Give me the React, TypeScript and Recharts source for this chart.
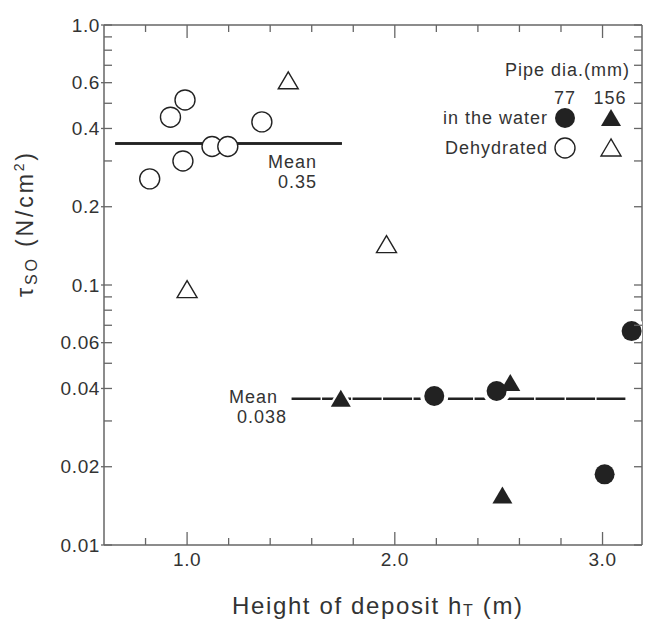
import React from 'react';
import { ScatterChart, Scatter, XAxis, YAxis } from 'recharts';

// ---- data ----
const dehydrated77 = [
  { x: 0.82, y: 0.256 },
  { x: 0.92, y: 0.442 },
  { x: 0.99, y: 0.515 },
  { x: 0.98, y: 0.3 },
  { x: 1.12, y: 0.341 },
  { x: 1.196, y: 0.341 },
  { x: 1.36, y: 0.424 },
];
const dehydrated156 = [
  { x: 1.487, y: 0.61 },
  { x: 1.0, y: 0.096 },
  { x: 1.96, y: 0.143 },
];
const water77 = [
  { x: 2.19, y: 0.0374 },
  { x: 2.49, y: 0.0391 },
  { x: 3.14, y: 0.0665 },
  { x: 3.01, y: 0.0187 },
];
const water156 = [
  { x: 1.74, y: 0.0365 },
  { x: 2.556, y: 0.042 },
  { x: 2.518, y: 0.0155 },
];
const meanDehydrated = [
  { x: 0.654, y: 0.35 },
  { x: 1.745, y: 0.35 },
];
const meanWater = [
  { x: 1.503, y: 0.0365 },
  { x: 3.11, y: 0.0365 },
];

const xDomain = [0.6, 3.19];
const xTicks = [0.8, 1.0, 1.2, 1.4, 1.6, 1.8, 2.0, 2.2, 2.4, 2.6, 2.8, 3.0];
const xMajor = [1.0, 2.0, 3.0];
const xLabels = ['1.0', '2.0', '3.0'];

const yDomain = [0.01, 1];
const yTicks = [
  0.01, 0.02, 0.03, 0.04, 0.05, 0.06, 0.07, 0.08, 0.09,
  0.1, 0.2, 0.3, 0.4, 0.5, 0.6, 0.7, 0.8, 0.9, 1.0,
];
const yLabelValues = [1.0, 0.6, 0.4, 0.2, 0.1, 0.06, 0.04, 0.02, 0.01];
const yLabels = ['1.0', '0.6', '0.4', '0.2', '0.1', '0.06', '0.04', '0.02', '0.01'];

// ---- styles ----
const INK = '#222';
const TEXT = '#333';
const AXIS = '#666';
const FONT = '"Liberation Sans", Arial, sans-serif';
const FS = 18;
const LS = 1;
const TFS = 19;
const TLS = 0.6;

const near = (a: number, b: number) => Math.abs(a - b) < 1e-6;

const labelFor = (v: number, vals: number[], labels: string[]) => {
  const i = vals.findIndex((t) => near(t, v));
  return i >= 0 ? labels[i] : null;
};

const XTickBottom = (props: any) => {
  const { x, y, payload } = props;
  const lab = labelFor(payload.value, xMajor, xLabels);
  return (
    <g>
      <line x1={x} x2={x} y1={y} y2={y - (lab ? 13 : 7)} stroke={AXIS} strokeWidth={1.3} />
      {lab && (
        <text x={x} y={y + 21} textAnchor="middle" fontSize={TFS} letterSpacing={TLS} fontFamily={FONT} fill={TEXT}>
          {lab}
        </text>
      )}
    </g>
  );
};

const XTickTop = (props: any) => {
  const { x, y, payload } = props;
  const major = xMajor.some((t) => near(t, payload.value));
  return <line x1={x} x2={x} y1={y} y2={y + (major ? 13 : 7)} stroke={AXIS} strokeWidth={1.3} />;
};

const YTickLeft = (props: any) => {
  const { x, y, payload } = props;
  const lab = labelFor(payload.value, yLabelValues, yLabels);
  return (
    <g>
      <line x1={x - (lab ? 3 : 0)} x2={x + 8} y1={y} y2={y} stroke={AXIS} strokeWidth={1.3} />
      {lab && (
        <text x={x - 4} y={y + 6.5} textAnchor="end" fontSize={TFS} letterSpacing={TLS} fontFamily={FONT} fill={TEXT}>
          {lab}
        </text>
      )}
    </g>
  );
};

const YTickRight = (props: any) => {
  const { x, y } = props;
  return <line x1={x} x2={x - 8} y1={y} y2={y} stroke={AXIS} strokeWidth={1.3} />;
};

const tri = (cx: number, cy: number) => `${cx},${cy - 9} ${cx - 10},${cy + 8} ${cx + 10},${cy + 8}`;
const triHalo = (cx: number, cy: number) => `${cx},${cy - 14} ${cx - 14},${cy + 11} ${cx + 14},${cy + 11}`;

const OpenCircle = (p: any) => <circle cx={p.cx} cy={p.cy} r={10} fill="#fff" stroke={INK} strokeWidth={1.4} />;
const OpenTriangle = (p: any) => <polygon points={tri(p.cx, p.cy)} fill="#fff" stroke={INK} strokeWidth={1.4} />;
const CircleHalo = (p: any) => <circle cx={p.cx} cy={p.cy} r={14} fill="#fff" />;
const TriangleHalo = (p: any) => <polygon points={triHalo(p.cx, p.cy)} fill="#fff" />;
const FilledCircle = (p: any) => <circle cx={p.cx} cy={p.cy} r={10} fill={INK} />;
const FilledTriangle = (p: any) => <polygon points={tri(p.cx, p.cy)} fill={INK} />;
const NoShape = () => <g />;

const txt = (x: number, y: number, s: React.ReactNode, anchor: string = 'start', fs: number = FS) => (
  <text x={x} y={y} textAnchor={anchor as any} fontSize={fs} letterSpacing={LS} fontFamily={FONT} fill={TEXT}>
    {s}
  </text>
);

export default function App() {
  return (
    <div style={{ position: 'absolute', left: 0, top: 0, width: 645, height: 623, background: '#fff' }}>
      <ScatterChart width={645} height={623} margin={{ top: 24, right: 2, left: 0, bottom: 0 }}>
        <XAxis
          xAxisId="b"
          dataKey="x"
          type="number"
          domain={xDomain}
          allowDataOverflow
          ticks={xTicks}
          interval={0}
          orientation="bottom"
          height={78}
          tickSize={0}
          tickMargin={0}
          tickLine={false}
          tick={<XTickBottom />}
          axisLine={{ stroke: AXIS, strokeWidth: 1.5 }}
        />
        <XAxis
          xAxisId="t"
          dataKey="x"
          type="number"
          domain={xDomain}
          allowDataOverflow
          ticks={xTicks}
          interval={0}
          orientation="top"
          height={1}
          tickSize={0}
          tickMargin={0}
          tickLine={false}
          tick={<XTickTop />}
          axisLine={{ stroke: AXIS, strokeWidth: 1.5 }}
        />
        <YAxis
          yAxisId="l"
          dataKey="y"
          type="number"
          scale="log"
          domain={yDomain}
          allowDataOverflow
          ticks={yTicks}
          interval={0}
          orientation="left"
          width={104}
          tickSize={0}
          tickMargin={0}
          tickLine={false}
          tick={<YTickLeft />}
          axisLine={{ stroke: AXIS, strokeWidth: 1.5 }}
        />
        <YAxis
          yAxisId="r"
          dataKey="y"
          type="number"
          scale="log"
          domain={yDomain}
          allowDataOverflow
          ticks={yTicks}
          interval={0}
          orientation="right"
          width={1}
          tickSize={0}
          tickMargin={0}
          tickLine={false}
          tick={<YTickRight />}
          axisLine={{ stroke: AXIS, strokeWidth: 1.5 }}
        />
        <Scatter xAxisId="t" yAxisId="r" data={meanDehydrated} shape={NoShape} line={{ stroke: INK, strokeWidth: 2.5 }} isAnimationActive={false} />
        <Scatter xAxisId="b" yAxisId="l" data={meanDehydrated} shape={NoShape} line={{ stroke: INK, strokeWidth: 2.5 }} isAnimationActive={false} />
        <Scatter xAxisId="b" yAxisId="l" data={meanWater} shape={NoShape} line={{ stroke: INK, strokeWidth: 2.5, strokeDasharray: '29 1.5' }} isAnimationActive={false} />
        <Scatter xAxisId="b" yAxisId="l" data={water156} shape={TriangleHalo} isAnimationActive={false} />
        <Scatter xAxisId="b" yAxisId="l" data={water77} shape={CircleHalo} isAnimationActive={false} />
        <Scatter xAxisId="b" yAxisId="l" data={dehydrated77} shape={OpenCircle} isAnimationActive={false} />
        <Scatter xAxisId="b" yAxisId="l" data={dehydrated156} shape={OpenTriangle} isAnimationActive={false} />
        <Scatter xAxisId="b" yAxisId="l" data={water156} shape={FilledTriangle} isAnimationActive={false} />
        <Scatter xAxisId="b" yAxisId="l" data={water77} shape={FilledCircle} isAnimationActive={false} />
      </ScatterChart>
      <svg width={645} height={623} style={{ position: 'absolute', left: 0, top: 0, pointerEvents: 'none' }}>
        {/* legend */}
        {txt(630, 76, 'Pipe dia.(mm)', 'end')}
        {txt(565, 104, '77', 'middle')}
        {txt(610, 104, '156', 'middle')}
        {txt(548, 124, 'in the water', 'end')}
        <circle cx={565} cy={118} r={10} fill={INK} />
        <polygon points={tri(611, 118)} fill={INK} />
        {txt(548, 154, 'Dehydrated', 'end')}
        <circle cx={565} cy={148} r={10} fill="#fff" stroke={INK} strokeWidth={1.4} />
        <polygon points={tri(611, 148)} fill="#fff" stroke={INK} strokeWidth={1.4} />
        {/* mean annotations */}
        {txt(268, 168, 'Mean')}
        {txt(278, 188, '0.35')}
        {txt(229, 403, 'Mean')}
        {txt(237, 423, '0.038')}
        {/* axis titles */}
        <text x={232} y={614} textLength={290} lengthAdjust="spacing" fontSize={24} fontFamily={FONT} fill={TEXT}>
          Height of deposit h<tspan fontSize={16} dy={2}>T</tspan>
          <tspan dy={-2}>{'  (m)'}</tspan>
        </text>
        <text
          transform="translate(33,297) rotate(-90)"
          x={0}
          y={0}
          textLength={144}
          lengthAdjust="spacing"
          fontSize={23}
          fontFamily={FONT}
          fill={TEXT}
        >
          τ<tspan fontSize={16} dy={4}>SO</tspan>
          <tspan dy={-4}>{' (N/cm'}</tspan>
          <tspan fontSize={14} dy={-9}>2</tspan>
          <tspan dy={9}>)</tspan>
        </text>
      </svg>
    </div>
  );
}
